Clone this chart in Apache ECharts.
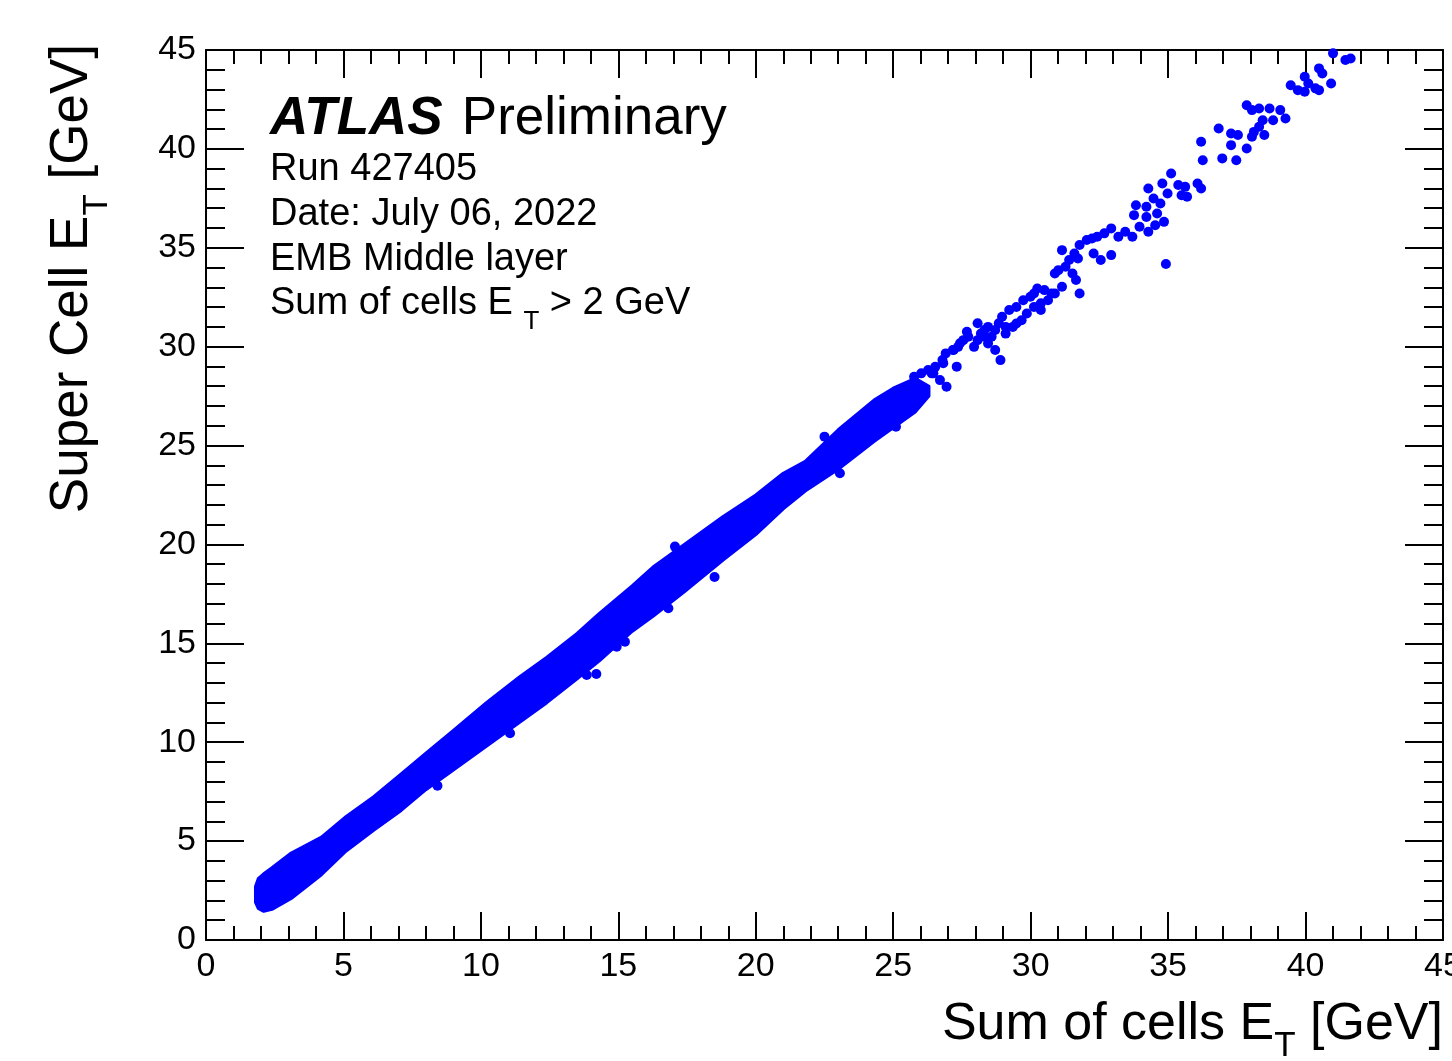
<!DOCTYPE html>
<html>
<head>
<meta charset="utf-8">
<script src="https://cdn.jsdelivr.net/npm/echarts@6/dist/echarts.min.js"></script>
<style>
  html, body { margin: 0; padding: 0; background: #fff; }
  #chart { width: 1452px; height: 1061px; }
</style>
</head>
<body>
<div id="chart"></div>
<script>
// Assenbereik (beide assen gelijk)
const axisMin = 0;
const axisMax = 45;
const axisStep = 5;

// Dichte kern van de verdeling: onder- en bovenrand per x (GeV)
const bandX    = [1.8, 1.9, 2.1, 2.4, 3.1, 4.2, 5.1, 6.1, 7.1, 8.0, 9.0, 10.2, 11.4, 12.4, 13.5, 14.3, 15.5, 16.3, 17.4, 18.8, 20.0, 21.0, 21.8, 23.0, 24.3, 25.0, 25.8, 26.3];
const bandLow  = [1.9, 1.6, 1.45, 1.55, 2.1, 3.3, 4.5, 5.55, 6.55, 7.6, 8.6, 9.8, 11.0, 12.0, 13.2, 14.1, 15.6, 16.4, 17.6, 19.2, 20.5, 21.8, 22.7, 23.8, 25.2, 25.9, 26.7, 27.5];
const bandHigh = [2.7, 3.1, 3.35, 3.65, 4.4, 5.2, 6.25, 7.25, 8.4, 9.45, 10.6, 12.0, 13.3, 14.3, 15.5, 16.5, 17.9, 18.9, 20.0, 21.4, 22.5, 23.6, 24.2, 25.8, 27.3, 27.9, 28.4, 28.0];

// Losse punten naast de kern
const outliers = [
  [8.42, 7.8], [11.06, 10.45], [13.85, 13.4], [14.2, 13.45], [14.94, 14.83], [15.24, 15.08],
  [16.82, 16.77], [17.06, 19.89], [18.5, 18.35], [22.5, 25.45], [23.06, 23.6], [25.1, 25.95]
];

// Hoge energie: losse punten (x = som van cellen, y = super cell)
const sparsePoints = [
  [41.0, 44.83], [41.45, 44.49], [41.64, 44.57], [40.49, 44.07], [40.61, 43.81], [40.93, 43.31],
  [39.46, 43.22], [39.72, 42.97], [39.97, 42.89], [40.1, 43.31], [40.36, 43.06], [40.49, 42.97], [39.97, 43.65],
  [37.86, 42.21], [38.05, 41.96], [38.31, 42.04], [38.69, 42.04], [39.08, 41.96], [39.27, 41.54], [38.82, 41.45],
  [38.44, 41.45], [38.31, 41.12], [38.12, 40.86], [38.5, 40.7], [38.05, 40.61],
  [36.84, 41.03], [37.29, 40.78], [37.54, 40.7], [37.29, 40.19], [37.86, 40.02], [36.2, 40.36], [36.26, 39.43],
  [36.97, 39.52], [37.48, 39.43],
  [35.11, 38.76], [34.79, 38.25], [34.28, 38.0], [35.37, 38.17], [35.62, 38.08], [36.07, 38.25], [36.2, 38.0],
  [34.98, 37.74], [34.47, 37.49], [34.72, 37.24], [34.21, 37.07], [33.83, 37.15], [33.76, 36.65], [34.21, 36.56],
  [34.6, 36.73], [35.49, 37.66], [35.69, 37.58],
  [34.85, 36.31], [34.53, 36.14], [34.28, 35.81], [33.96, 36.06], [33.7, 35.56], [33.44, 35.81], [33.19, 35.56],
  [32.93, 35.98], [32.68, 35.73], [32.42, 35.56], [32.23, 35.47], [32.04, 35.39], [31.78, 35.14], [31.59, 34.71],
  [31.72, 34.46], [31.14, 34.88], [32.29, 34.71], [32.55, 34.38], [32.93, 34.63],
  [34.92, 34.18],
  [31.4, 34.38], [31.27, 34.04], [31.01, 33.87], [30.88, 33.7], [31.52, 33.7], [31.65, 33.37], [31.78, 32.69],
  [31.14, 33.03], [30.76, 32.69], [30.5, 32.86], [30.24, 32.94], [30.12, 32.69], [30.37, 32.19], [30.37, 31.85],
  [29.99, 32.52], [29.73, 32.35], [29.48, 32.01], [29.22, 31.85], [29.67, 31.34], [29.35, 31.0], [28.96, 31.51],
  [28.84, 31.18], [28.71, 30.84], [28.58, 30.5], [28.32, 30.84], [28.19, 30.67], [28.07, 30.33], [27.94, 29.99],
  [28.45, 30.16], [28.71, 29.83], [28.9, 29.32], [27.68, 30.75], [27.55, 30.33], [27.36, 29.99], [27.17, 29.83],
  [26.91, 29.66], [26.79, 29.32], [26.53, 28.98], [26.4, 28.65], [25.76, 28.48],
  [28.07, 31.18], [28.45, 31.0], [28.32, 30.5], [29.09, 31.0], [29.09, 30.66], [29.48, 31.17], [29.86, 31.68],
  [30.12, 32.01], [30.63, 32.35], [30.88, 32.69], [26.02, 28.65], [26.27, 28.82],
  [26.46, 28.65], [26.7, 28.31], [26.94, 27.97], [26.82, 29.16], [27.2, 29.83], [27.43, 30.17], [27.73, 30.5], [27.31, 28.99]
];

// Teksten
const infoLines = ['Run 427405', 'Date: July 06, 2022', 'EMB Middle layer'];

const FONT = '"Liberation Sans", Arial, Helvetica, sans-serif';
const BLUE = '#0000ff';

// Meet tekstbreedte met hetzelfde lettertype
function textWidth(str, size, weight, style) {
    let ctx = document.createElement('canvas').getContext('2d');
    ctx.font = `${style || 'normal'} ${weight || 'normal'} ${size}px ${FONT}`;
    return ctx.measureText(str).width;
}

function label(x, y, text, size, extra) {
    return {
        type: 'text', x: x, y: y, silent: true,
        style: Object.assign({
            text: text, fill: '#000', fontSize: size, fontFamily: FONT,
            textAlign: 'left', textVerticalAlign: 'middle'
        }, extra || {})
    };
}

function makeAxis(position, majorLen, minorLen, showLabel) {
    return {
        type: 'value',
        position: position,
        min: axisMin,
        max: axisMax,
        interval: axisStep,
        axisLine: { show: true, onZero: false, lineStyle: { color: '#000', width: 2 } },
        axisTick: { show: true, inside: true, length: majorLen, lineStyle: { color: '#000', width: 2 } },
        minorTick: { show: true, splitNumber: 5, length: minorLen, lineStyle: { color: '#000', width: 2 } },
        splitLine: { show: false },
        minorSplitLine: { show: false },
        axisLabel: { show: showLabel, color: '#000', fontSize: 34, fontFamily: FONT, margin: 10 }
    };
}

function drawVisualisation() {
    let chart = echarts.init(document.getElementById('chart'));

    // Titel x-as: rechts uitgelijnd
    const tSize = 52, subSize = 35;
    let xw1 = textWidth('Sum of cells E', tSize);
    let xwT = textWidth('T', subSize);
    let xw2 = textWidth(' [GeV]', tSize);
    let xStart = 1443 - (xw1 + xwT + xw2);
    const xTitleY = 1025;

    // Titel y-as: gedraaid, eindigt bovenaan
    const ySize = 53;
    let yw1 = textWidth('Super Cell E', ySize);
    let ywT = textWidth('T', subSize);
    let yw2 = textWidth(' [GeV]', ySize);
    let yTotal = yw1 + ywT + yw2;

    // ATLAS-label
    const atlasSize = 53, infoSize = 38;
    let atlasW = textWidth('ATLAS', atlasSize, 'bold', 'italic');
    let infoW = textWidth('Sum of cells E ', infoSize);
    let infoTW = textWidth('T', 26);

    let graphics = [
        label(270, 119, 'ATLAS', atlasSize, { fontWeight: 'bold', fontStyle: 'italic' }),
        label(270 + atlasW + 0.36 * atlasSize, 119, 'Preliminary', atlasSize),
        label(xStart, xTitleY, 'Sum of cells E', tSize),
        label(xStart + xw1, xTitleY + 21, 'T', subSize),
        label(xStart + xw1 + xwT, xTitleY, ' [GeV]', tSize),
        {
            type: 'group', x: 72, y: 44, rotation: Math.PI / 2, silent: true,
            children: [
                label(-yTotal, 0, 'Super Cell E', ySize),
                label(-yTotal + yw1, 25, 'T', subSize),
                label(-yTotal + yw1 + ywT, 0, ' [GeV]', ySize)
            ]
        }
    ];
    infoLines.forEach((line, i) => {
        graphics.push(label(270, 170 + i * 45, line, infoSize));
    });
    graphics.push(label(270, 304, 'Sum of cells E ', infoSize));
    graphics.push(label(270 + infoW, 322, 'T', 26));
    graphics.push(label(270 + infoW + infoTW, 304, ' > 2 GeV', infoSize));

    /** @type EChartsOption */
    let option = {
        backgroundColor: '#fff',
        animation: false,
        grid: { left: 206, right: 9, top: 50, bottom: 121, containLabel: false, outerBoundsMode: 'none' },
        xAxis: [
            makeAxis('bottom', 28, 14, true),
            makeAxis('top', 28, 14, false)
        ],
        yAxis: [
            makeAxis('left', 38, 19, true),
            makeAxis('right', 38, 19, false)
        ],
        series: [
            {
                // dichte kern als vlak tussen onder- en bovenrand
                type: 'custom',
                coordinateSystem: 'cartesian2d',
                xAxisIndex: 0,
                yAxisIndex: 0,
                silent: true,
                clip: true,
                data: [[bandX[0], bandLow[0]]],
                renderItem: function (params, api) {
                    let top = bandX.map((x, i) => api.coord([x, bandHigh[i]]));
                    let bottom = bandX.map((x, i) => api.coord([x, bandLow[i]])).reverse();
                    return {
                        type: 'polygon',
                        shape: { points: top.concat(bottom) },
                        style: { fill: BLUE, stroke: BLUE, lineWidth: 3, lineJoin: 'round' }
                    };
                }
            },
            {
                type: 'scatter',
                xAxisIndex: 0,
                yAxisIndex: 0,
                symbol: 'circle',
                symbolSize: 10,
                clip: true,
                silent: true,
                itemStyle: { color: BLUE, opacity: 1 },
                data: outliers.concat(sparsePoints)
            }
        ],
        graphic: graphics
    };

    chart.setOption(option);
}

window.addEventListener('load', drawVisualisation);
</script>
</body>
</html>
